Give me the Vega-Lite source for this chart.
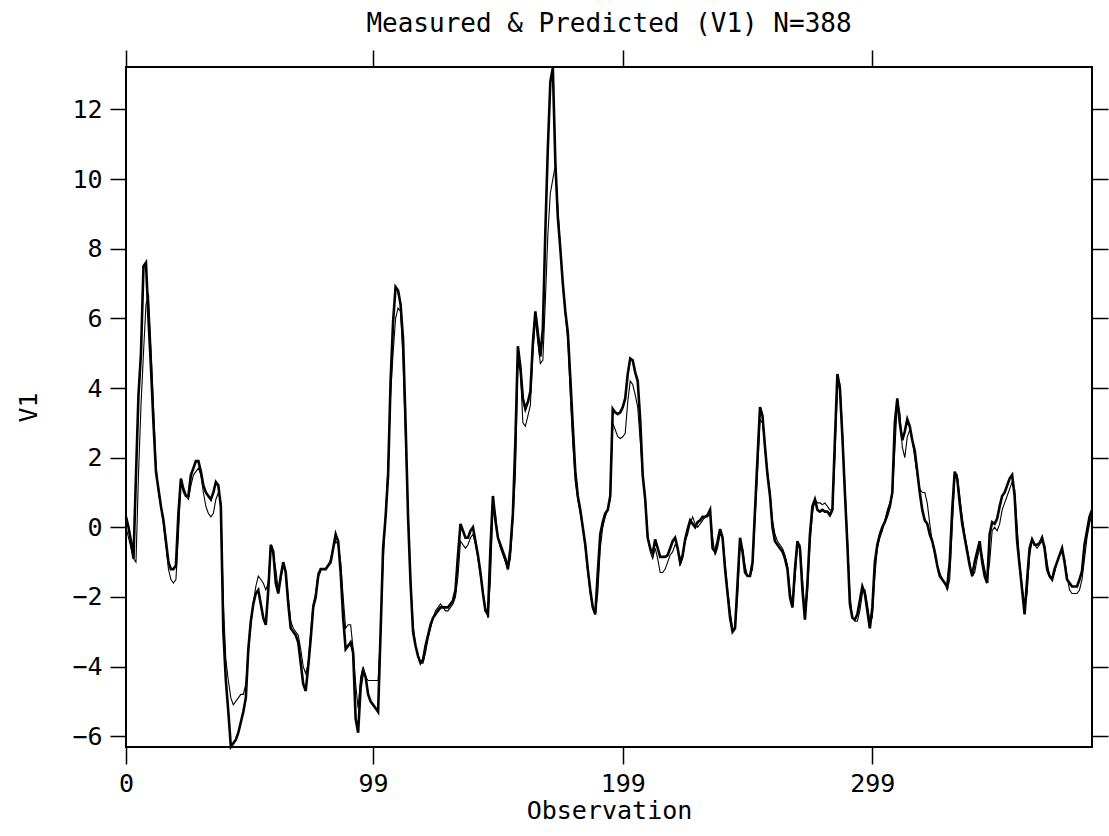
{
"$schema": "https://vega.github.io/schema/vega-lite/v6.json",
"width": 966, "height": 680,
"autosize": {"type": "none"},
"padding": {"left": 126, "top": 67, "right": 17, "bottom": 89},
"background": "white",
"config": {"view": {"stroke": "#000", "strokeWidth": 2}, "font": "DejaVu Sans Mono"},
"title": {"text": "Measured & Predicted (V1) N=388", "font": "DejaVu Sans Mono", "fontSize": 26, "fontWeight": "normal", "color": "#000", "offset": 12, "anchor": "middle"},
"data": {"values": [
{"obs":0,"measured":0.3,"predicted":0.0},{"obs":1,"measured":0.0,"predicted":-0.3},{"obs":2,"measured":-0.4,"predicted":-0.6},{"obs":3,"measured":-0.9,"predicted":-0.9},{"obs":4,"measured":1.5,"predicted":-1.0},{"obs":5,"measured":3.8,"predicted":1.5},{"obs":6,"measured":5.0,"predicted":3.5},{"obs":7,"measured":7.5,"predicted":5.0},{"obs":8,"measured":7.6,"predicted":6.4},{"obs":9,"measured":6.0,"predicted":6.7},
{"obs":10,"measured":4.6,"predicted":5.2},{"obs":11,"measured":3.0,"predicted":3.5},{"obs":12,"measured":1.6,"predicted":1.8},{"obs":13,"measured":1.1,"predicted":1.0},{"obs":14,"measured":0.6,"predicted":0.6},{"obs":15,"measured":0.2,"predicted":0.1},{"obs":16,"measured":-0.4,"predicted":-0.5},{"obs":17,"measured":-1.0,"predicted":-1.2},{"obs":18,"measured":-1.2,"predicted":-1.5},{"obs":19,"measured":-1.2,"predicted":-1.6},
{"obs":20,"measured":-1.1,"predicted":-1.5},{"obs":21,"measured":0.4,"predicted":-0.2},{"obs":22,"measured":1.4,"predicted":1.3},{"obs":23,"measured":1.1,"predicted":1.0},{"obs":24,"measured":0.9,"predicted":0.9},{"obs":25,"measured":0.9,"predicted":0.8},{"obs":26,"measured":1.5,"predicted":1.2},{"obs":27,"measured":1.7,"predicted":1.5},{"obs":28,"measured":1.9,"predicted":1.6},{"obs":29,"measured":1.9,"predicted":1.7},
{"obs":30,"measured":1.6,"predicted":1.5},{"obs":31,"measured":1.2,"predicted":1.0},{"obs":32,"measured":1.0,"predicted":0.6},{"obs":33,"measured":0.9,"predicted":0.4},{"obs":34,"measured":0.8,"predicted":0.3},{"obs":35,"measured":1.0,"predicted":0.4},{"obs":36,"measured":1.3,"predicted":0.8},{"obs":37,"measured":1.2,"predicted":1.0},{"obs":38,"measured":0.6,"predicted":0.7},{"obs":39,"measured":-3.0,"predicted":-2.2},
{"obs":40,"measured":-4.4,"predicted":-3.8},{"obs":41,"measured":-5.3,"predicted":-4.4},{"obs":42,"measured":-6.3,"predicted":-4.9},{"obs":43,"measured":-6.2,"predicted":-5.1},{"obs":44,"measured":-6.1,"predicted":-5.0},{"obs":45,"measured":-5.9,"predicted":-4.9},{"obs":46,"measured":-5.6,"predicted":-4.8},{"obs":47,"measured":-5.3,"predicted":-4.8},{"obs":48,"measured":-4.9,"predicted":-4.5},{"obs":49,"measured":-3.5,"predicted":-3.6},
{"obs":50,"measured":-2.7,"predicted":-2.8},{"obs":51,"measured":-2.2,"predicted":-2.2},{"obs":52,"measured":-1.9,"predicted":-1.7},{"obs":53,"measured":-1.8,"predicted":-1.4},{"obs":54,"measured":-2.2,"predicted":-1.5},{"obs":55,"measured":-2.6,"predicted":-1.6},{"obs":56,"measured":-2.8,"predicted":-1.8},{"obs":57,"measured":-1.8,"predicted":-1.6},{"obs":58,"measured":-0.5,"predicted":-0.6},{"obs":59,"measured":-0.7,"predicted":-0.8},
{"obs":60,"measured":-1.6,"predicted":-1.2},{"obs":61,"measured":-1.9,"predicted":-1.8},{"obs":62,"measured":-1.4,"predicted":-1.5},{"obs":63,"measured":-1.0,"predicted":-1.1},{"obs":64,"measured":-1.3,"predicted":-1.3},{"obs":65,"measured":-2.2,"predicted":-2.0},{"obs":66,"measured":-2.9,"predicted":-2.7},{"obs":67,"measured":-3.0,"predicted":-2.9},{"obs":68,"measured":-3.1,"predicted":-3.0},{"obs":69,"measured":-3.3,"predicted":-3.1},
{"obs":70,"measured":-3.9,"predicted":-3.5},{"obs":71,"measured":-4.5,"predicted":-4.0},{"obs":72,"measured":-4.7,"predicted":-4.2},{"obs":73,"measured":-4.0,"predicted":-3.9},{"obs":74,"measured":-3.2,"predicted":-3.0},{"obs":75,"measured":-2.3,"predicted":-2.2},{"obs":76,"measured":-2.0,"predicted":-1.9},{"obs":77,"measured":-1.4,"predicted":-1.3},{"obs":78,"measured":-1.2,"predicted":-1.2},{"obs":79,"measured":-1.2,"predicted":-1.2},
{"obs":80,"measured":-1.2,"predicted":-1.2},{"obs":81,"measured":-1.1,"predicted":-1.1},{"obs":82,"measured":-1.0,"predicted":-0.9},{"obs":83,"measured":-0.6,"predicted":-0.6},{"obs":84,"measured":-0.2,"predicted":-0.4},{"obs":85,"measured":-0.4,"predicted":-0.5},{"obs":86,"measured":-1.3,"predicted":-1.0},{"obs":87,"measured":-2.6,"predicted":-2.0},{"obs":88,"measured":-3.5,"predicted":-2.9},{"obs":89,"measured":-3.4,"predicted":-2.8},
{"obs":90,"measured":-3.3,"predicted":-2.8},{"obs":91,"measured":-3.6,"predicted":-3.5},{"obs":92,"measured":-5.5,"predicted":-4.5},{"obs":93,"measured":-5.9,"predicted":-5.2},{"obs":94,"measured":-4.6,"predicted":-4.3},{"obs":95,"measured":-4.1,"predicted":-4.0},{"obs":96,"measured":-4.3,"predicted":-4.3},{"obs":97,"measured":-4.8,"predicted":-4.4},{"obs":98,"measured":-5.0,"predicted":-4.4},{"obs":99,"measured":-5.1,"predicted":-4.4},
{"obs":100,"measured":-5.2,"predicted":-4.4},{"obs":101,"measured":-5.3,"predicted":-4.4},{"obs":102,"measured":-3.0,"predicted":-3.0},{"obs":103,"measured":-0.6,"predicted":-1.0},{"obs":104,"measured":0.3,"predicted":0.4},{"obs":105,"measured":1.5,"predicted":1.8},{"obs":106,"measured":4.2,"predicted":3.8},{"obs":107,"measured":5.9,"predicted":5.0},{"obs":108,"measured":6.9,"predicted":6.0},{"obs":109,"measured":6.8,"predicted":6.3},
{"obs":110,"measured":6.4,"predicted":6.2},{"obs":111,"measured":5.4,"predicted":4.8},{"obs":112,"measured":3.0,"predicted":2.5},{"obs":113,"measured":0.3,"predicted":0.5},{"obs":114,"measured":-1.6,"predicted":-1.5},{"obs":115,"measured":-3.0,"predicted":-2.8},{"obs":116,"measured":-3.4,"predicted":-3.4},{"obs":117,"measured":-3.7,"predicted":-3.7},{"obs":118,"measured":-3.9,"predicted":-3.9},{"obs":119,"measured":-3.8,"predicted":-3.9},
{"obs":120,"measured":-3.4,"predicted":-3.6},{"obs":121,"measured":-3.1,"predicted":-3.2},{"obs":122,"measured":-2.8,"predicted":-2.9},{"obs":123,"measured":-2.6,"predicted":-2.6},{"obs":124,"measured":-2.5,"predicted":-2.4},{"obs":125,"measured":-2.4,"predicted":-2.3},{"obs":126,"measured":-2.3,"predicted":-2.2},{"obs":127,"measured":-2.3,"predicted":-2.3},{"obs":128,"measured":-2.3,"predicted":-2.4},{"obs":129,"measured":-2.3,"predicted":-2.4},
{"obs":130,"measured":-2.2,"predicted":-2.3},{"obs":131,"measured":-2.1,"predicted":-2.2},{"obs":132,"measured":-1.8,"predicted":-2.0},{"obs":133,"measured":-0.8,"predicted":-1.4},{"obs":134,"measured":0.1,"predicted":-0.4},{"obs":135,"measured":-0.1,"predicted":-0.5},{"obs":136,"measured":-0.3,"predicted":-0.6},{"obs":137,"measured":-0.3,"predicted":-0.5},{"obs":138,"measured":-0.1,"predicted":-0.3},{"obs":139,"measured":0.0,"predicted":-0.2},
{"obs":140,"measured":-0.4,"predicted":-0.5},{"obs":141,"measured":-0.8,"predicted":-0.9},{"obs":142,"measured":-1.3,"predicted":-1.4},{"obs":143,"measured":-1.9,"predicted":-1.9},{"obs":144,"measured":-2.4,"predicted":-2.3},{"obs":145,"measured":-2.5,"predicted":-2.6},{"obs":146,"measured":-0.6,"predicted":-1.5},{"obs":147,"measured":0.9,"predicted":0.6},{"obs":148,"measured":0.2,"predicted":0.4},{"obs":149,"measured":-0.3,"predicted":-0.3},
{"obs":150,"measured":-0.5,"predicted":-0.6},{"obs":151,"measured":-0.7,"predicted":-0.8},{"obs":152,"measured":-0.9,"predicted":-1.0},{"obs":153,"measured":-1.2,"predicted":-1.2},{"obs":154,"measured":-0.6,"predicted":-0.9},{"obs":155,"measured":0.4,"predicted":0.2},{"obs":156,"measured":2.5,"predicted":1.5},{"obs":157,"measured":5.2,"predicted":4.7},{"obs":158,"measured":4.6,"predicted":4.5},{"obs":159,"measured":3.7,"predicted":3.0},
{"obs":160,"measured":3.4,"predicted":2.9},{"obs":161,"measured":3.6,"predicted":3.2},{"obs":162,"measured":3.9,"predicted":3.5},{"obs":163,"measured":5.3,"predicted":5.0},{"obs":164,"measured":6.2,"predicted":6.0},{"obs":165,"measured":5.6,"predicted":5.3},{"obs":166,"measured":4.9,"predicted":4.7},{"obs":167,"measured":5.7,"predicted":4.8},{"obs":168,"measured":8.5,"predicted":6.5},{"obs":169,"measured":10.9,"predicted":8.4},
{"obs":170,"measured":12.8,"predicted":9.6},{"obs":171,"measured":13.2,"predicted":10.0},{"obs":172,"measured":10.5,"predicted":10.4},{"obs":173,"measured":8.9,"predicted":9.2},{"obs":174,"measured":8.0,"predicted":8.0},{"obs":175,"measured":7.0,"predicted":7.0},{"obs":176,"measured":6.2,"predicted":6.1},{"obs":177,"measured":5.6,"predicted":5.4},{"obs":178,"measured":4.3,"predicted":3.8},{"obs":179,"measured":2.9,"predicted":2.4},
{"obs":180,"measured":1.6,"predicted":1.3},{"obs":181,"measured":0.9,"predicted":0.8},{"obs":182,"measured":0.5,"predicted":0.4},{"obs":183,"measured":0.0,"predicted":0.0},{"obs":184,"measured":-0.5,"predicted":-0.6},{"obs":185,"measured":-1.2,"predicted":-1.3},{"obs":186,"measured":-1.8,"predicted":-1.9},{"obs":187,"measured":-2.3,"predicted":-2.3},{"obs":188,"measured":-2.5,"predicted":-2.5},{"obs":189,"measured":-1.3,"predicted":-1.9},
{"obs":190,"measured":-0.2,"predicted":-0.6},{"obs":191,"measured":0.15,"predicted":0.0},{"obs":192,"measured":0.4,"predicted":0.3},{"obs":193,"measured":0.5,"predicted":0.5},{"obs":194,"measured":0.9,"predicted":0.8},{"obs":195,"measured":3.4,"predicted":3.0},{"obs":196,"measured":3.3,"predicted":2.8},{"obs":197,"measured":3.25,"predicted":2.6},{"obs":198,"measured":3.3,"predicted":2.55},{"obs":199,"measured":3.45,"predicted":2.6},
{"obs":200,"measured":3.7,"predicted":2.7},{"obs":201,"measured":4.4,"predicted":3.6},{"obs":202,"measured":4.85,"predicted":4.2},{"obs":203,"measured":4.8,"predicted":4.1},{"obs":204,"measured":4.45,"predicted":3.8},{"obs":205,"measured":4.2,"predicted":3.45},{"obs":206,"measured":3.1,"predicted":2.5},{"obs":207,"measured":1.5,"predicted":1.5},{"obs":208,"measured":0.8,"predicted":0.8},{"obs":209,"measured":-0.3,"predicted":-0.2},
{"obs":210,"measured":-0.6,"predicted":-0.7},{"obs":211,"measured":-0.75,"predicted":-0.9},{"obs":212,"measured":-0.35,"predicted":-0.6},{"obs":213,"measured":-0.6,"predicted":-0.9},{"obs":214,"measured":-0.85,"predicted":-1.3},{"obs":215,"measured":-0.85,"predicted":-1.3},{"obs":216,"measured":-0.85,"predicted":-1.2},{"obs":217,"measured":-0.8,"predicted":-1.0},{"obs":218,"measured":-0.6,"predicted":-0.8},{"obs":219,"measured":-0.4,"predicted":-0.7},
{"obs":220,"measured":-0.3,"predicted":-0.5},{"obs":221,"measured":-0.6,"predicted":-0.6},{"obs":222,"measured":-1.0,"predicted":-1.1},{"obs":223,"measured":-0.8,"predicted":-0.9},{"obs":224,"measured":-0.35,"predicted":-0.4},{"obs":225,"measured":-0.05,"predicted":-0.2},{"obs":226,"measured":0.2,"predicted":0.1},{"obs":227,"measured":0.1,"predicted":0.3},{"obs":228,"measured":0.0,"predicted":0.1},{"obs":229,"measured":0.15,"predicted":0.0},
{"obs":230,"measured":0.2,"predicted":0.1},{"obs":231,"measured":0.3,"predicted":0.2},{"obs":232,"measured":0.3,"predicted":0.3},{"obs":233,"measured":0.35,"predicted":0.3},{"obs":234,"measured":0.5,"predicted":0.4},{"obs":235,"measured":-0.6,"predicted":-0.3},{"obs":236,"measured":-0.7,"predicted":-0.8},{"obs":237,"measured":-0.4,"predicted":-0.6},{"obs":238,"measured":-0.05,"predicted":-0.2},{"obs":239,"measured":-0.3,"predicted":-0.3},
{"obs":240,"measured":-1.2,"predicted":-1.0},{"obs":241,"measured":-1.9,"predicted":-1.8},{"obs":242,"measured":-2.6,"predicted":-2.4},{"obs":243,"measured":-3.0,"predicted":-2.9},{"obs":244,"measured":-2.9,"predicted":-2.9},{"obs":245,"measured":-1.6,"predicted":-2.0},{"obs":246,"measured":-0.3,"predicted":-0.5},{"obs":247,"measured":-0.7,"predicted":-0.6},{"obs":248,"measured":-1.3,"predicted":-1.1},{"obs":249,"measured":-1.4,"predicted":-1.4},
{"obs":250,"measured":-1.4,"predicted":-1.4},{"obs":251,"measured":-1.0,"predicted":-1.2},{"obs":252,"measured":0.5,"predicted":0.2},{"obs":253,"measured":2.0,"predicted":1.6},{"obs":254,"measured":3.45,"predicted":3.1},{"obs":255,"measured":3.2,"predicted":3.0},{"obs":256,"measured":2.3,"predicted":2.3},{"obs":257,"measured":1.5,"predicted":1.6},{"obs":258,"measured":0.9,"predicted":1.0},{"obs":259,"measured":0.0,"predicted":0.2},
{"obs":260,"measured":-0.4,"predicted":-0.2},{"obs":261,"measured":-0.5,"predicted":-0.4},{"obs":262,"measured":-0.6,"predicted":-0.5},{"obs":263,"measured":-0.7,"predicted":-0.6},{"obs":264,"measured":-0.9,"predicted":-0.8},{"obs":265,"measured":-1.2,"predicted":-1.1},{"obs":266,"measured":-2.0,"predicted":-1.8},{"obs":267,"measured":-2.3,"predicted":-2.3},{"obs":268,"measured":-1.2,"predicted":-1.5},{"obs":269,"measured":-0.4,"predicted":-0.5},
{"obs":270,"measured":-0.6,"predicted":-0.5},{"obs":271,"measured":-1.8,"predicted":-1.5},{"obs":272,"measured":-2.65,"predicted":-2.5},{"obs":273,"measured":-1.6,"predicted":-1.9},{"obs":274,"measured":-0.2,"predicted":-0.5},{"obs":275,"measured":0.6,"predicted":0.4},{"obs":276,"measured":0.8,"predicted":0.8},{"obs":277,"measured":0.5,"predicted":0.7},{"obs":278,"measured":0.45,"predicted":0.7},{"obs":279,"measured":0.5,"predicted":0.65},
{"obs":280,"measured":0.45,"predicted":0.7},{"obs":281,"measured":0.45,"predicted":0.6},{"obs":282,"measured":0.35,"predicted":0.5},{"obs":283,"measured":0.5,"predicted":0.5},{"obs":284,"measured":2.5,"predicted":2.0},{"obs":285,"measured":4.4,"predicted":4.0},{"obs":286,"measured":4.0,"predicted":4.1},{"obs":287,"measured":2.6,"predicted":2.8},{"obs":288,"measured":1.0,"predicted":1.2},{"obs":289,"measured":-0.5,"predicted":-0.3},
{"obs":290,"measured":-2.2,"predicted":-1.9},{"obs":291,"measured":-2.6,"predicted":-2.6},{"obs":292,"measured":-2.65,"predicted":-2.7},{"obs":293,"measured":-2.5,"predicted":-2.7},{"obs":294,"measured":-2.1,"predicted":-2.4},{"obs":295,"measured":-1.7,"predicted":-1.9},{"obs":296,"measured":-1.9,"predicted":-1.8},{"obs":297,"measured":-2.4,"predicted":-2.2},{"obs":298,"measured":-2.9,"predicted":-2.7},{"obs":299,"measured":-2.3,"predicted":-2.6},
{"obs":300,"measured":-1.0,"predicted":-1.4},{"obs":301,"measured":-0.5,"predicted":-0.6},{"obs":302,"measured":-0.2,"predicted":-0.3},{"obs":303,"measured":0.0,"predicted":-0.1},{"obs":304,"measured":0.15,"predicted":0.2},{"obs":305,"measured":0.35,"predicted":0.5},{"obs":306,"measured":0.6,"predicted":0.7},{"obs":307,"measured":1.0,"predicted":0.9},{"obs":308,"measured":3.0,"predicted":2.2},{"obs":309,"measured":3.7,"predicted":3.6},
{"obs":310,"measured":3.0,"predicted":3.3},{"obs":311,"measured":2.5,"predicted":2.3},{"obs":312,"measured":2.75,"predicted":2.0},{"obs":313,"measured":3.1,"predicted":2.6},{"obs":314,"measured":2.9,"predicted":2.8},{"obs":315,"measured":2.5,"predicted":2.5},{"obs":316,"measured":2.2,"predicted":2.0},{"obs":317,"measured":1.6,"predicted":1.5},{"obs":318,"measured":1.0,"predicted":1.1},{"obs":319,"measured":0.5,"predicted":1.0},
{"obs":320,"measured":0.2,"predicted":1.0},{"obs":321,"measured":0.1,"predicted":0.7},{"obs":322,"measured":-0.2,"predicted":0.1},{"obs":323,"measured":-0.4,"predicted":-0.4},{"obs":324,"measured":-0.7,"predicted":-0.8},{"obs":325,"measured":-1.1,"predicted":-1.1},{"obs":326,"measured":-1.4,"predicted":-1.3},{"obs":327,"measured":-1.5,"predicted":-1.5},{"obs":328,"measured":-1.6,"predicted":-1.6},{"obs":329,"measured":-1.7,"predicted":-1.8},
{"obs":330,"measured":-1.0,"predicted":-1.5},{"obs":331,"measured":0.5,"predicted":0.0},{"obs":332,"measured":1.6,"predicted":1.4},{"obs":333,"measured":1.4,"predicted":1.5},{"obs":334,"measured":0.7,"predicted":0.9},{"obs":335,"measured":0.1,"predicted":0.3},{"obs":336,"measured":-0.3,"predicted":-0.2},{"obs":337,"measured":-0.7,"predicted":-0.6},{"obs":338,"measured":-1.1,"predicted":-1.0},{"obs":339,"measured":-1.4,"predicted":-1.4},
{"obs":340,"measured":-1.0,"predicted":-1.3},{"obs":341,"measured":-0.7,"predicted":-0.9},{"obs":342,"measured":-0.4,"predicted":-0.6},{"obs":343,"measured":-1.0,"predicted":-0.8},{"obs":344,"measured":-1.4,"predicted":-1.2},{"obs":345,"measured":-1.6,"predicted":-1.5},{"obs":346,"measured":-0.2,"predicted":-1.0},{"obs":347,"measured":0.15,"predicted":-0.1},{"obs":348,"measured":0.1,"predicted":0.0},{"obs":349,"measured":0.25,"predicted":-0.1},
{"obs":350,"measured":0.6,"predicted":0.1},{"obs":351,"measured":0.9,"predicted":0.5},{"obs":352,"measured":1.0,"predicted":0.7},{"obs":353,"measured":1.2,"predicted":0.9},{"obs":354,"measured":1.4,"predicted":1.1},{"obs":355,"measured":1.5,"predicted":1.3},{"obs":356,"measured":0.9,"predicted":1.1},{"obs":357,"measured":-0.4,"predicted":0.0},{"obs":358,"measured":-1.1,"predicted":-1.0},{"obs":359,"measured":-1.8,"predicted":-1.7},
{"obs":360,"measured":-2.5,"predicted":-2.3},{"obs":361,"measured":-1.5,"predicted":-1.9},{"obs":362,"measured":-0.6,"predicted":-0.8},{"obs":363,"measured":-0.35,"predicted":-0.4},{"obs":364,"measured":-0.5,"predicted":-0.5},{"obs":365,"measured":-0.5,"predicted":-0.6},{"obs":366,"measured":-0.45,"predicted":-0.5},{"obs":367,"measured":-0.3,"predicted":-0.4},{"obs":368,"measured":-0.6,"predicted":-0.5},{"obs":369,"measured":-1.2,"predicted":-1.0},
{"obs":370,"measured":-1.4,"predicted":-1.4},{"obs":371,"measured":-1.5,"predicted":-1.5},{"obs":372,"measured":-1.2,"predicted":-1.3},{"obs":373,"measured":-1.0,"predicted":-1.0},{"obs":374,"measured":-0.8,"predicted":-0.8},{"obs":375,"measured":-0.6,"predicted":-0.7},{"obs":376,"measured":-1.0,"predicted":-0.9},{"obs":377,"measured":-1.5,"predicted":-1.4},{"obs":378,"measured":-1.6,"predicted":-1.8},{"obs":379,"measured":-1.7,"predicted":-1.9},
{"obs":380,"measured":-1.7,"predicted":-1.9},{"obs":381,"measured":-1.7,"predicted":-1.9},{"obs":382,"measured":-1.5,"predicted":-1.8},{"obs":383,"measured":-1.25,"predicted":-1.5},{"obs":384,"measured":-0.5,"predicted":-0.9},{"obs":385,"measured":-0.1,"predicted":-0.3},{"obs":386,"measured":0.3,"predicted":0.1},{"obs":387,"measured":0.5,"predicted":0.4}
]},
"layer": [
{"mark": {"type": "line", "color": "#000", "strokeWidth": 2.6},
 "encoding": {
  "x": {"field": "obs", "type": "quantitative", "scale": {"domain": [0, 387], "nice": false, "zero": false},
        "axis": {"orient": "bottom", "values": [0, 99, 199, 299], "tickSize": 17, "tickWidth": 1.5, "tickColor": "#000", "domain": false, "grid": false,
                 "labelFont": "DejaVu Sans Mono", "labelFontSize": 25, "labelColor": "#000", "labelPadding": 7, "labelFlush": false,
                 "title": "Observation", "titleFont": "DejaVu Sans Mono", "titleFontSize": 25, "titleFontWeight": "normal", "titleColor": "#000", "titlePadding": 2}},
  "y": {"field": "measured", "type": "quantitative", "scale": {"domain": [-6.31, 13.22], "nice": false, "zero": false},
        "axis": {"orient": "left", "values": [-6, -4, -2, 0, 2, 4, 6, 8, 10, 12], "tickSize": 16, "tickWidth": 1.5, "tickColor": "#000", "domain": false, "grid": false,
                 "labelFont": "DejaVu Sans Mono", "labelFontSize": 25, "labelColor": "#000", "labelPadding": 8, "labelFlush": false,
                 "title": "V1", "titleFont": "DejaVu Sans Mono", "titleFontSize": 25, "titleFontWeight": "normal", "titleColor": "#000", "titlePadding": 30}}
 }},
{"mark": {"type": "line", "color": "#000", "strokeWidth": 1.1},
 "encoding": {
  "x": {"field": "obs", "type": "quantitative",
        "axis": {"orient": "top", "values": [0, 99, 199, 299], "tickSize": 17, "tickWidth": 1.5, "tickColor": "#000", "domain": false, "grid": false, "labels": false, "title": null}},
  "y": {"field": "predicted", "type": "quantitative",
        "axis": {"orient": "right", "values": [-6, -4, -2, 0, 2, 4, 6, 8, 10, 12], "tickSize": 16, "tickWidth": 1.5, "tickColor": "#000", "domain": false, "grid": false, "labels": false, "title": null}}
 }}
],
"resolve": {"axis": {"x": "independent", "y": "independent"}}
}
